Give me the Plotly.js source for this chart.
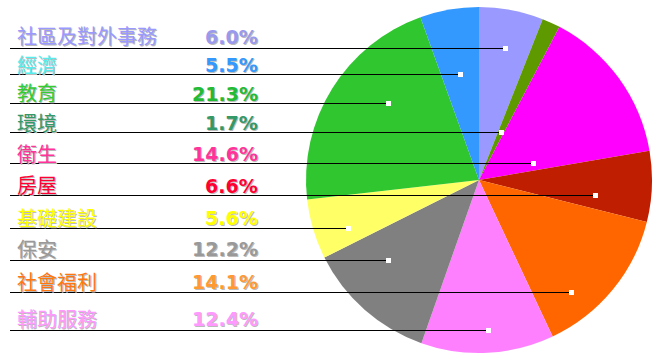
<!DOCTYPE html>
<html><head><meta charset="utf-8">
<script src="https://cdn.plot.ly/plotly-3.0.1.min.js"></script>
<style>html,body{margin:0;padding:0;background:#fff;}#chart{width:659px;height:360px;}</style>
</head><body><div id="chart"></div>
<script>
// Pie data, clockwise from 12 o'clock
const categories = ['社區及對外事務','環境','衛生','房屋','社會福利','輔助服務','保安','基礎建設','教育','經濟'];
const values = [6.0, 1.7, 14.6, 6.6, 14.1, 12.4, 12.2, 5.6, 21.3, 5.5];
const sliceColors = ['#9999ff','#5f9900','#ff00ff','#bf1e00','#ff6600','#ff80ff','#808080','#ffff66','#2fc62f','#3399ff'];
// Legend rows (top to bottom)
const rowLabels = ['社區及對外事務','經濟','教育','環境','衛生','房屋','基礎建設','保安','社會福利','輔助服務'];
const rowLabelColors = ['#9999ff','#55eeee','#33cc33','#339966','#ff3399','#ff0033','#ffff00','#999999','#ff7711','#ff99ff'];
const rowPctColors = ['#9999ee','#3399ff','#22bb33','#339966','#ff3399','#ff0033','#ffff00','#999999','#ff9933','#ff99ff'];

// Layout (pixels)
const W = 659, H = 360;
const cx = 479, cy = 180, R = 173;
const rowY = [48, 74, 103, 132, 163, 195, 228, 260, 292, 330];      // leader line rows
const textY = [36, 64, 93, 122, 153, 185, 217, 248, 281, 318];      // label text centres
const lineX0 = 10, labelX = 15, pctX = 260;

// slice angle ranges
const total = values.reduce((a,b)=>a+b,0);
const ranges = [];
let acc = 0;
values.forEach(v => { const a0 = acc/total*360; acc += v; ranges.push([a0, acc/total*360]); });

function dotX(sliceIdx, py){
  const dy = py - cy;
  let mn = null, mx = null;
  for (let px = cx - R; px <= cx + R; px += 0.25){
    const dx = px - cx;
    if (dx*dx + dy*dy > R*R) continue;
    let th = Math.atan2(dx, -dy)*180/Math.PI; if (th < 0) th += 360;
    if (th >= ranges[sliceIdx][0] && th <= ranges[sliceIdx][1]){
      if (mn === null || px < mn) mn = px;
      if (mx === null || px > mx) mx = px;
    }
  }
  return Math.round((mn + mx)/2);
}

const shapes = [], annotations = [];
const xp = px => px / W, yp = py => 1 - py / H;
rowLabels.forEach((lab, i) => {
  const si = categories.indexOf(lab);
  const y = rowY[i];
  const dx = dotX(si, y);
  shapes.push({type:'line', xref:'paper', yref:'paper', x0:xp(lineX0), x1:xp(dx), y0:yp(y+0.5), y1:yp(y+0.5), line:{color:'#000', width:1}});
  shapes.push({type:'rect', xref:'paper', yref:'paper', x0:xp(dx-2), x1:xp(dx+3), y0:yp(y-2), y1:yp(y+3), fillcolor:'#fff', line:{width:0}});
  annotations.push({xref:'paper', yref:'paper', x:xp(labelX), y:yp(textY[i]), xanchor:'left', yanchor:'middle', showarrow:false, text:lab,
    font:{family:'"Noto Sans CJK TC", "Noto Sans CJK SC", sans-serif', size:20, color:rowLabelColors[i], shadow:'1px 1px 0 #bbbbbb'}});
  annotations.push({xref:'paper', yref:'paper', x:xp(pctX), y:yp(textY[i]+1), xanchor:'right', yanchor:'middle', showarrow:false, text:values[si].toFixed(1)+'%',
    font:{family:'"DejaVu Sans", sans-serif', size:19, weight:'bold', color:rowPctColors[i], shadow:'1px 1px 0 #bbbbbb'}});
});

const data = [{
  type:'pie', labels:categories, values:values, sort:false, direction:'clockwise', rotation:0,
  marker:{colors:sliceColors, line:{width:0}}, textinfo:'none', hoverinfo:'label+percent',
  domain:{x:[(cx-R)/W, (cx+R)/W], y:[(H-cy-R)/H, (H-cy+R)/H]}
}];
const layout = {width:W, height:H, margin:{l:0,r:0,t:0,b:0}, showlegend:false,
  paper_bgcolor:'#fff', plot_bgcolor:'#fff', shapes:shapes, annotations:annotations};
Plotly.newPlot('chart', data, layout, {displayModeBar:false, staticPlot:true});
</script></body></html>
